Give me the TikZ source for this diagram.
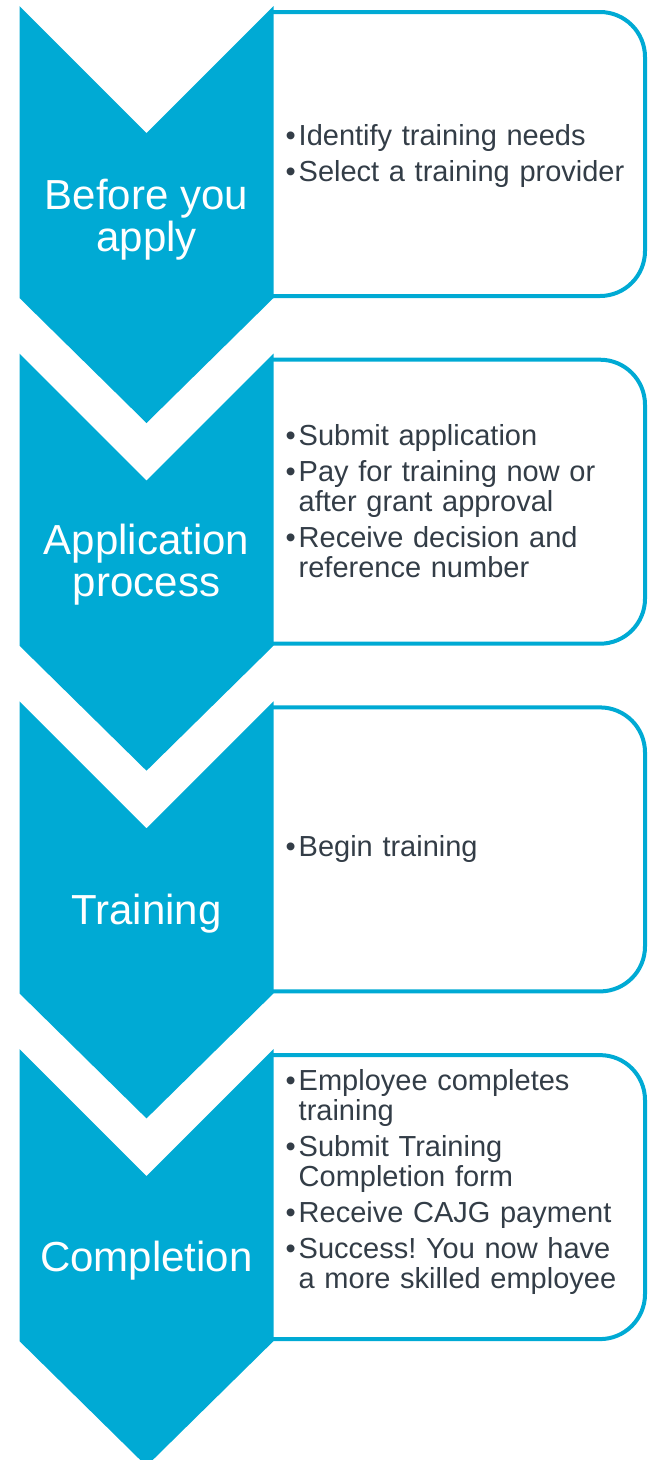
\documentclass[tikz,border=0pt]{standalone}
\usepackage{fontspec}
\setmainfont{Liberation Sans}
\usepackage{xcolor}
\usepackage{tikz}
\usetikzlibrary{positioning}

\definecolor{stepblue}{HTML}{00AAD4}
\definecolor{itemgray}{HTML}{333D47}

% one bullet of the right hand boxes
\newcommand{\bul}[1]{\noindent\hangindent=13pt\hangafter=1\makebox[13pt][l]{\textbullet}#1\par}
\frenchspacing

\begin{document}
\begin{tikzpicture}[x=1pt,y=-1pt,
	chevronfill/.style={fill=stepblue},
	stepbox/.style={draw=stepblue,line width=4pt,rounded corners=45pt},
	steplabel/.style={text=white,align=center,inner sep=0pt,font=\fontsize{42}{42}\selectfont},
	itemtext/.style={text=itemgray,text width=350pt,align=left,inner sep=0pt,anchor=base west,
		font=\fontsize{29}{30}\selectfont\setlength{\parskip}{6pt}}]
	\useasboundingbox (0,0) rectangle (648,1460);

	\foreach \t in {6,353.7,701.4,1049.1} {
		\draw [stepbox] (272,\t+6) -- (645,\t+6) -- (645,\t+290) -- (272,\t+290);
		\fill [chevronfill] (19.5,\t) -- (146.5,\t+127) -- (273.5,\t) -- (273.5,\t+292)
			-- (146.5,\t+417) -- (19.5,\t+292) -- cycle;
	}

	\node (before)     at (146.5,220)  [steplabel] {Before you\\apply};
	\node (app)        at (146.5,565)  [steplabel] {Application\\process};
	\node (training)   at (146.5,914)  [steplabel] {Training};
	\node (completion) at (146.5,1261) [steplabel] {Completion};

	\node (beforeitems) at (285.5,145.5) [itemtext] {%
		\bul{Identify training needs}%
		\bul{Select a training provider}};
	\node (appitems) at (285.5,445) [itemtext] {%
		\bul{Submit application}%
		\bul{Pay for training now or\newline after grant approval}%
		\bul{Receive decision and\newline reference number}};
	\node (trainingitems) at (285.5,856.7) [itemtext] {%
		\bul{Begin training}};
	\node (completionitems) at (285.5,1090) [itemtext] {%
		\bul{Employee completes\newline training}%
		\bul{Submit Training\newline Completion form}%
		\bul{Receive CAJG payment}%
		\bul{Success! You now have\newline a more skilled employee}};
\end{tikzpicture}
\end{document}
